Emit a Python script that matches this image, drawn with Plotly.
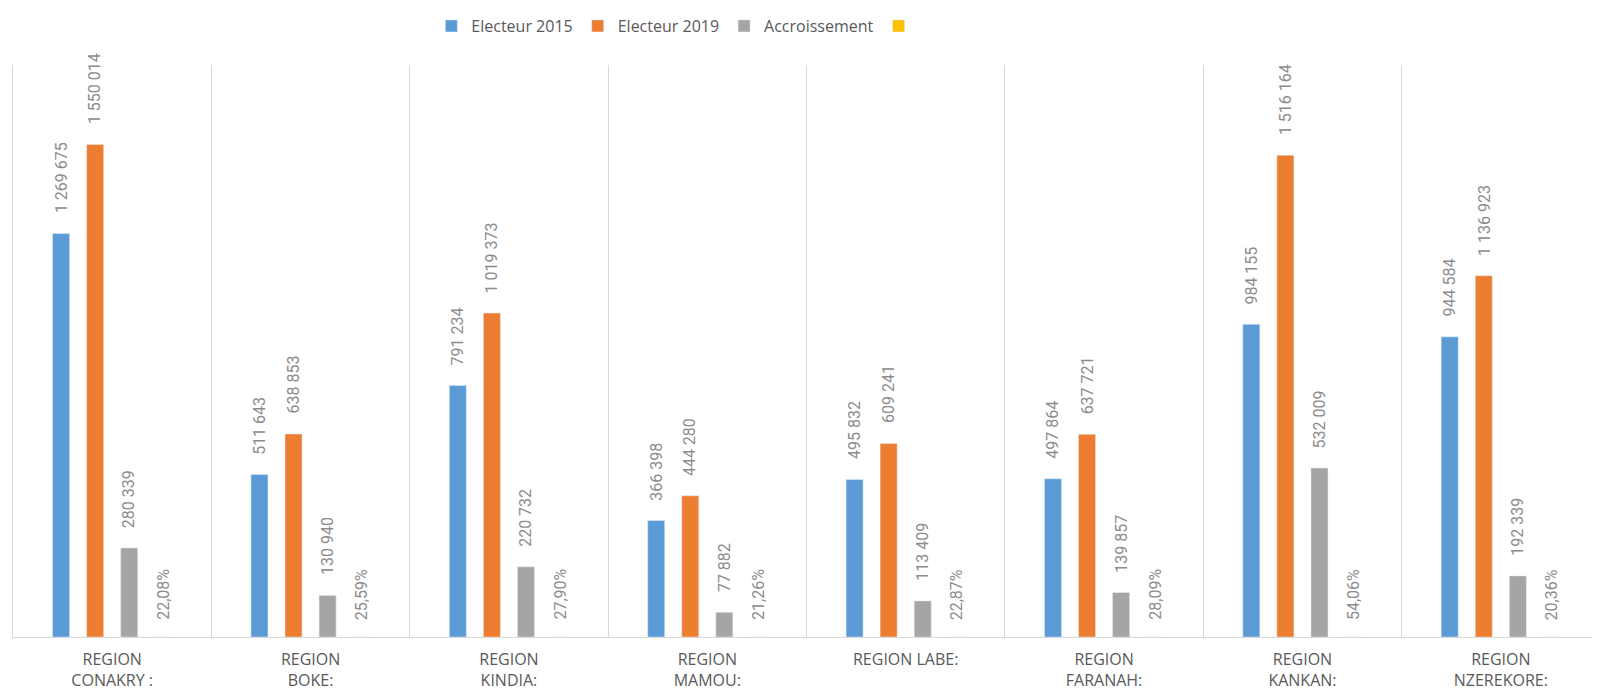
import plotly.graph_objects as go

categories = ["REGION<br>CONAKRY :", "REGION<br>BOKE:", "REGION<br>KINDIA:", "REGION<br>MAMOU:",
              "REGION LABE:", "REGION<br>FARANAH:", "REGION<br>KANKAN:", "REGION<br>NZEREKORE:"]
electeur_2015 = [1269675, 511643, 791234, 366398, 495832, 497864, 984155, 944584]
electeur_2019 = [1550014, 638853, 1019373, 444280, 609241, 637721, 1516164, 1136923]
accroissement = [280339, 130940, 220732, 77882, 113409, 139857, 532009, 192339]
taux = [0.2208, 0.2559, 0.2790, 0.2126, 0.2287, 0.2809, 0.5406, 0.2036]

series_names = ["Electeur 2015", "Electeur 2019", "Accroissement", ""]
colors = ["#5b9bd5", "#ed7d31", "#a5a5a5", "#ffc000"]

# the page body has an 8px default margin, so the figure is a little smaller
W, H = 1592, 689
ML, MR, MT, MB = 5, 0, 57, 60
BARGAP = 0.313
BARGROUPGAP = 0.5


def fmt_int(v):
    return f"{v:,}".replace(",", " ")


def fmt_pct(v):
    return f"{v*100:.2f}%".replace(".", ",")


fig = go.Figure()
all_values = [electeur_2015, electeur_2019, accroissement, taux]
for name, vals, col in zip(series_names, all_values, colors):
    fig.add_trace(go.Bar(x=categories, y=vals, name=name, marker_color=col,
                         showlegend=True, hoverinfo="skip"))

plot_w = W - ML - MR
plot_h = H - MT - MB
slot = plot_w / len(categories) * (1 - BARGAP) / 4
label_font = dict(family="Roboto, sans-serif", size=16, color="#8c8c8c")
annotations = []
for si, vals in enumerate(all_values):
    for ci, v in enumerate(vals):
        txt = fmt_pct(v) if si == 3 else fmt_int(v)
        annotations.append(dict(
            x=categories[ci], y=v, xref="x", yref="y", text=txt,
            textangle=-90, showarrow=False, xanchor="center", yanchor="bottom",
            xshift=(si - 1.5) * slot, yshift=15 if si == 3 else 18, font=label_font))

fig.update_layout(
    width=W, height=H,
    margin=dict(l=ML, r=MR, t=MT, b=MB, autoexpand=False),
    paper_bgcolor="white", plot_bgcolor="white",
    barmode="group", bargap=BARGAP, bargroupgap=BARGROUPGAP,
    legend=dict(orientation="h", x=0.2636, xanchor="left", y=1 + (MT - 1) / plot_h,
                yanchor="top",
                font=dict(family="Open Sans, sans-serif", size=16, color="#595959"),
                itemclick=False, traceorder="normal", tracegroupgap=0),
    annotations=annotations,
    showlegend=True,
)
fig.update_xaxes(
    type="category", tickson="boundaries", showgrid=True, gridcolor="#d9d9d9", gridwidth=1,
    showline=True, linecolor="#d9d9d9", linewidth=1, ticks="", automargin=False,
    tickfont=dict(family="Open Sans, sans-serif", size=16, color="#595959"),
    ticklabelstandoff=8,
)
fig.update_yaxes(range=[0, 1800000], visible=True, showticklabels=False, ticks="",
                 showgrid=False, zeroline=False, showline=True, linecolor="#d9d9d9",
                 linewidth=1, automargin=False)

fig.write_html("out.html")
